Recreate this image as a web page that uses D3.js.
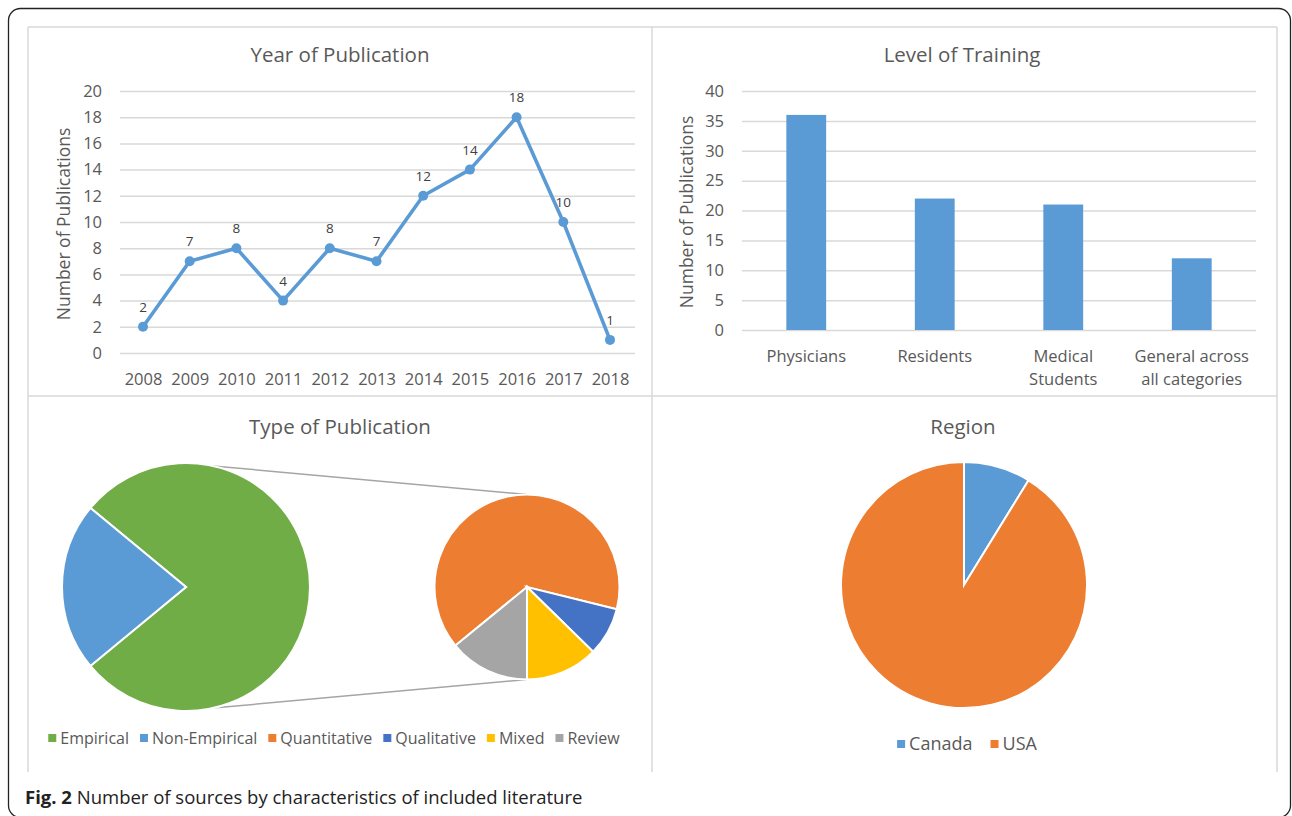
<!DOCTYPE html>
<html>
<head>
<meta charset="utf-8">
<script src="https://cdn.jsdelivr.net/npm/d3@7"></script>
<style>
  body { margin: 0; background: #fff; }
  svg text { font-family: "Open Sans", "Noto Sans", sans-serif; }
</style>
</head>
<body>
<div id="fig"></div>
<script>
// --- data ---
const years = ['2008', '2009', '2010', '2011', '2012', '2013', '2014', '2015', '2016', '2017', '2018'];
const yearCounts = [2, 7, 8, 4, 8, 7, 12, 14, 18, 10, 1];
const yearTicks = [0, 2, 4, 6, 8, 10, 12, 14, 16, 18, 20];

const trainingLevels = ['Physicians', 'Residents', 'Medical Students', 'General across all categories'];
const trainingLines = [['Physicians'], ['Residents'], ['Medical', 'Students'], ['General across', 'all categories']];
const trainingCounts = [36, 22, 21, 12];
const trainingTicks = [0, 5, 10, 15, 20, 25, 30, 35, 40];

const typeMain = ['Empirical', 'Non-Empirical'];
const typeMainCounts = [71, 20];
const typeSub = ['Quantitative', 'Qualitative', 'Mixed', 'Review'];
const typeSubCounts = [46, 6, 9, 10];

const regions = ['Canada', 'USA'];
const regionCounts = [8, 83];

// --- styles ---
const COLORS = {
    Empirical: '#70AD47', 'Non-Empirical': '#5B9BD5',
    Quantitative: '#ED7D31', Qualitative: '#4472C4', Mixed: '#FFC000', Review: '#A5A5A5',
    Canada: '#5B9BD5', USA: '#ED7D31'
};
const TEXT = '#595959';
const GRID = '#D9D9D9';
const deg = Math.PI / 180;

const svg = d3.select('#fig')
    .append('svg')
    .attr('width', 1292)
    .attr('height', 816);

// outer frame + panel borders
svg.append('rect')
    .attr('x', 8.5).attr('y', 8.5)
    .attr('width', 1282).attr('height', 809)
    .attr('rx', 12)
    .attr('fill', 'none')
    .attr('stroke', '#222')
    .attr('stroke-width', 1.3);

const panels = svg.append('g').attr('stroke', GRID).attr('stroke-width', 1.5);
[28, 652, 1277].forEach(x => panels.append('line').attr('x1', x).attr('x2', x).attr('y1', 27).attr('y2', 772));
[27, 396].forEach(y => panels.append('line').attr('x1', 28).attr('x2', 1277).attr('y1', y).attr('y2', y));

const title = (x, y, t) => svg.append('text')
    .attr('x', x).attr('y', y)
    .attr('text-anchor', 'middle')
    .attr('fill', TEXT)
    .style('font-size', '20.5px')
    .text(t);

const yTitle = (x, y, t) => svg.append('text')
    .attr('transform', `translate(${x},${y}) rotate(-90)`)
    .attr('text-anchor', 'middle')
    .attr('dy', '0.35em')
    .attr('fill', TEXT)
    .style('font-size', '17.5px')
    .text(t);

const styleAxis = (g, size) => {
    g.select('.domain').remove();
    g.selectAll('.tick line').attr('stroke', GRID).attr('stroke-width', 1.5);
    g.selectAll('.tick text').attr('fill', TEXT).style('font-size', size).attr('font-family', null);
};

// ---------------- Year of Publication (line) ----------------
{
    const x = d3.scalePoint().domain(years).range([143, 610]);
    const y = d3.scaleLinear().domain([0, 20]).range([353, 91]);

    title(340, 62, 'Year of Publication');
    yTitle(64, 224, 'Number of Publications');

    svg.append('g')
        .attr('transform', 'translate(120,0)')
        .call(d3.axisLeft(y).tickValues(yearTicks).tickSize(-515).tickPadding(18))
        .call(g => styleAxis(g, '16.5px'));

    svg.append('g')
        .attr('transform', 'translate(0,353)')
        .call(d3.axisBottom(x).tickSize(0).tickPadding(20))
        .call(g => styleAxis(g, '16.5px'));

    const line = d3.line().x((d, i) => x(years[i])).y(d => y(d));
    svg.append('path')
        .datum(yearCounts)
        .attr('d', line)
        .attr('fill', 'none')
        .attr('stroke', '#5B9BD5')
        .attr('stroke-width', 3.6)
        .attr('stroke-linejoin', 'round');

    svg.append('g').selectAll('circle')
        .data(yearCounts)
        .join('circle')
        .attr('cx', (d, i) => x(years[i]))
        .attr('cy', d => y(d))
        .attr('r', 5)
        .attr('fill', '#5B9BD5');

    svg.append('g').selectAll('text')
        .data(yearCounts)
        .join('text')
        .attr('x', (d, i) => x(years[i]))
        .attr('y', d => y(d) - 15)
        .attr('text-anchor', 'middle')
        .attr('fill', '#404040')
        .style('font-size', '13.5px')
        .text(d => d);
}

// ---------------- Level of Training (bars) ----------------
{
    const x = d3.scaleBand().domain(trainingLevels).range([742, 1256]).paddingInner(0.69).paddingOuter(0.345);
    const y = d3.scaleLinear().domain([0, 40]).range([330, 91]);

    title(962, 62, 'Level of Training');
    yTitle(687, 212, 'Number of Publications');

    svg.append('g')
        .attr('transform', 'translate(742,0)')
        .call(d3.axisLeft(y).tickValues(trainingTicks).tickSize(-514).tickPadding(18))
        .call(g => styleAxis(g, '16.5px'));

    svg.append('g').selectAll('rect')
        .data(trainingCounts)
        .join('rect')
        .attr('x', (d, i) => x(trainingLevels[i]))
        .attr('width', x.bandwidth())
        .attr('y', d => y(d))
        .attr('height', d => y(0) - y(d))
        .attr('fill', '#5B9BD5');

    const lab = svg.append('g').selectAll('text')
        .data(trainingLines)
        .join('text')
        .attr('text-anchor', 'middle')
        .attr('fill', TEXT)
        .style('font-size', '16.5px');
    lab.selectAll('tspan')
        .data((d, i) => d.map(s => [s, x(trainingLevels[i]) + x.bandwidth() / 2]))
        .join('tspan')
        .attr('x', d => d[1])
        .attr('y', (d, j) => 362 + j * 23)
        .text(d => d[0]);
}

// ---------------- Type of Publication (pie of pie) ----------------
{
    title(340, 434, 'Type of Publication');

    const big = { cx: 186, cy: 587, r: 124 };
    const small = { cx: 527, cy: 587, r: 92.5 };

    const pieBig = d3.pie().sort(null).startAngle(-50.4 * deg).endAngle(-50.4 * deg + 2 * Math.PI);
    const pieSmall = d3.pie().sort(null).startAngle(-129.3 * deg).endAngle(-129.3 * deg + 2 * Math.PI);

    // connector lines
    const conn = svg.append('g').attr('stroke', '#A5A5A5').attr('stroke-width', 1.5);
    [12.5, 167.5].forEach((a, k) => {
        const sa = k === 0 ? 0 : 180;
        conn.append('line')
            .attr('x1', big.cx + big.r * Math.sin(a * deg))
            .attr('y1', big.cy - big.r * Math.cos(a * deg))
            .attr('x2', small.cx + small.r * Math.sin(sa * deg))
            .attr('y2', small.cy - small.r * Math.cos(sa * deg));
    });

    svg.append('g')
        .attr('transform', `translate(${big.cx},${big.cy})`)
        .selectAll('path')
        .data(pieBig(typeMainCounts))
        .join('path')
        .attr('d', d3.arc().innerRadius(0).outerRadius(big.r))
        .attr('fill', (d, i) => COLORS[typeMain[i]])
        .attr('stroke', '#fff')
        .attr('stroke-width', 2);

    svg.append('g')
        .attr('transform', `translate(${small.cx},${small.cy})`)
        .selectAll('path')
        .data(pieSmall(typeSubCounts))
        .join('path')
        .attr('d', d3.arc().innerRadius(0).outerRadius(small.r))
        .attr('fill', (d, i) => COLORS[typeSub[i]])
        .attr('stroke', '#fff')
        .attr('stroke-width', 2);

    legend(typeMain.concat(typeSub), 334, 738, 16, 11);
}

// ---------------- Region (pie) ----------------
{
    title(963, 434, 'Region');

    const pie = d3.pie().sort(null);
    svg.append('g')
        .attr('transform', 'translate(964,585)')
        .selectAll('path')
        .data(pie(regionCounts))
        .join('path')
        .attr('d', d3.arc().innerRadius(0).outerRadius(123))
        .attr('fill', (d, i) => COLORS[regions[i]])
        .attr('stroke', '#fff')
        .attr('stroke-width', 2);

    legend(regions, 967, 744, 18, 18);
}

function legend(names, cx, cy, size, gap) {
    const g = svg.append('g');
    let xPos = 0;
    names.forEach(n => {
        g.append('rect')
            .attr('x', xPos).attr('y', cy - 4)
            .attr('width', 8).attr('height', 8)
            .attr('fill', COLORS[n]);
        const t = g.append('text')
            .attr('x', xPos + 12).attr('y', cy)
            .attr('dy', '0.35em')
            .attr('fill', TEXT)
            .style('font-size', size + 'px')
            .text(n);
        xPos += 12 + t.node().getComputedTextLength() + gap;
    });
    g.attr('transform', `translate(${cx - (xPos - gap) / 2},0)`);
}

// caption
const cap = svg.append('text')
    .attr('x', 25).attr('y', 804)
    .attr('fill', '#222')
    .style('font-size', '18.5px');
cap.append('tspan').attr('font-weight', 'bold').text('Fig. 2');
cap.append('tspan').text(' Number of sources by characteristics of included literature');
</script>
</body>
</html>
